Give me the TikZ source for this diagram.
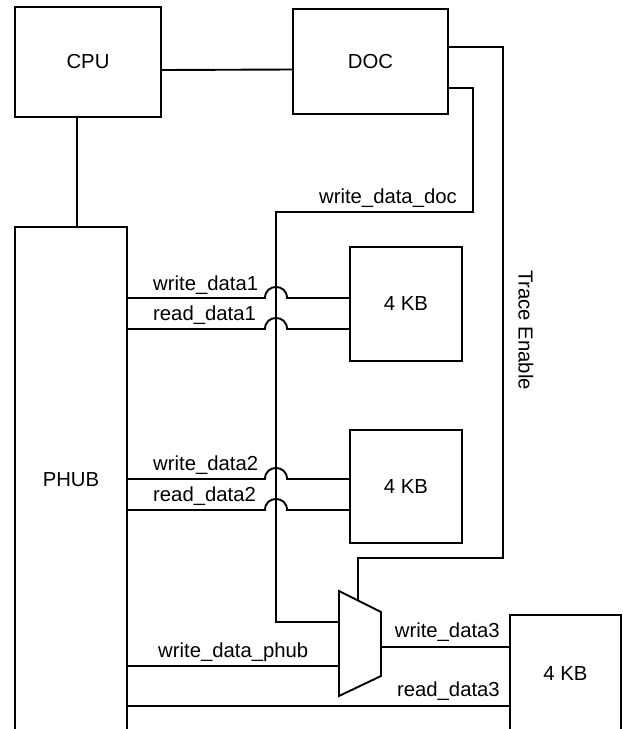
\documentclass[tikz,border=0pt]{standalone}
\usepackage{fontspec}
\setmainfont{Liberation Sans}
\usetikzlibrary{calc}
\begin{document}
\begin{tikzpicture}[x=1pt,y=-1pt,
  box/.style={draw, line width=1.9pt, inner sep=0pt},
  wire/.style={line width=1.9pt},
  lbl/.style={inner sep=0pt, font=\fontsize{20.3}{24}\selectfont}]
\useasboundingbox (0,0) rectangle (622,729);
\clip (0,0) rectangle (622,729);
\tikzset{every node/.append style={font=\fontsize{20.3}{24}\selectfont}}
% blocks
\node[box, minimum width=146pt, minimum height=110pt] (cpu) at (88,62) {CPU};
\node[box, minimum width=155pt, minimum height=105pt] (doc) at (370.5,61.5) {DOC};
\node[box, minimum width=112pt, minimum height=506pt] (phub) at (71,480) {PHUB};
\node[box, minimum width=112pt, minimum height=114pt] (kb1) at (406,304) {4 KB};
\node[box, minimum width=112pt, minimum height=113pt] (kb2) at (406,486.5) {4 KB};
\node[box, minimum width=111pt, minimum height=118pt] (kb3) at (565.5,674) {4 KB};
% mux
\coordinate (m1) at (339,591);
\coordinate (m2) at (381,612);
\coordinate (m3) at (381,676);
\coordinate (m4) at (339,696);
\draw[wire] (m1) -- (m2) -- (m3) -- (m4) -- cycle;
\coordinate (mtop) at ($(m1)!0.45!(m2)$);
% connectors
\draw[wire] ([yshift=-8pt]cpu.east) -- ([yshift=-8pt]doc.west);
\draw[wire] (cpu.south -| 77,0) -- (phub.north -| 77,0);
\draw[wire] (doc.east |- 0,47) -- (503,47) -- (503,558) -- (mtop |- 0,558) -- (mtop);
\draw[wire] (doc.east |- 0,88) -- (473,88) -- (473,212) -- (276,212) -- (276,622) -- (m1 |- 0,622);
% hopping lines
\draw[wire] (phub.east |- 0,298) -- (265,298) .. controls (265,283.3) and (287,283.3) .. (287,298) -- (kb1.west |- 0,298);
\draw[wire] (phub.east |- 0,329) -- (265,329) .. controls (265,314.3) and (287,314.3) .. (287,329) -- (kb1.west |- 0,329);
\draw[wire] (phub.east |- 0,479) -- (265,479) .. controls (265,464.3) and (287,464.3) .. (287,479) -- (kb2.west |- 0,479);
\draw[wire] (phub.east |- 0,510) -- (265,510) .. controls (265,495.3) and (287,495.3) .. (287,510) -- (kb2.west |- 0,510);
\draw[wire] (phub.east |- 0,666) -- (m1 |- 0,666);
\draw[wire] (m2 |- 0,647) -- (kb3.west |- 0,647);
\draw[wire] (phub.east |- 0,706) -- (kb3.west |- 0,706);
% labels
\node[lbl, anchor=base west] (l1) at (153,290) {write\_data1};
\node[lbl, anchor=base west] (l2) at (153,320) {read\_data1};
\node[lbl, anchor=base west] (l3) at (153,470) {write\_data2};
\node[lbl, anchor=base west] (l4) at (153,501) {read\_data2};
\node[lbl, anchor=base west] (l5) at (158,657) {write\_data\_phub};
\node[lbl, anchor=base east] (l6) at (500,637) {write\_data3};
\node[lbl, anchor=base east] (l7) at (500,696) {read\_data3};
\node[lbl, anchor=base east] (l8) at (457,203) {write\_data\_doc};
\node[lbl, rotate=-90] (l9) at (526,330) {Trace Enable};
\end{tikzpicture}
\end{document}
